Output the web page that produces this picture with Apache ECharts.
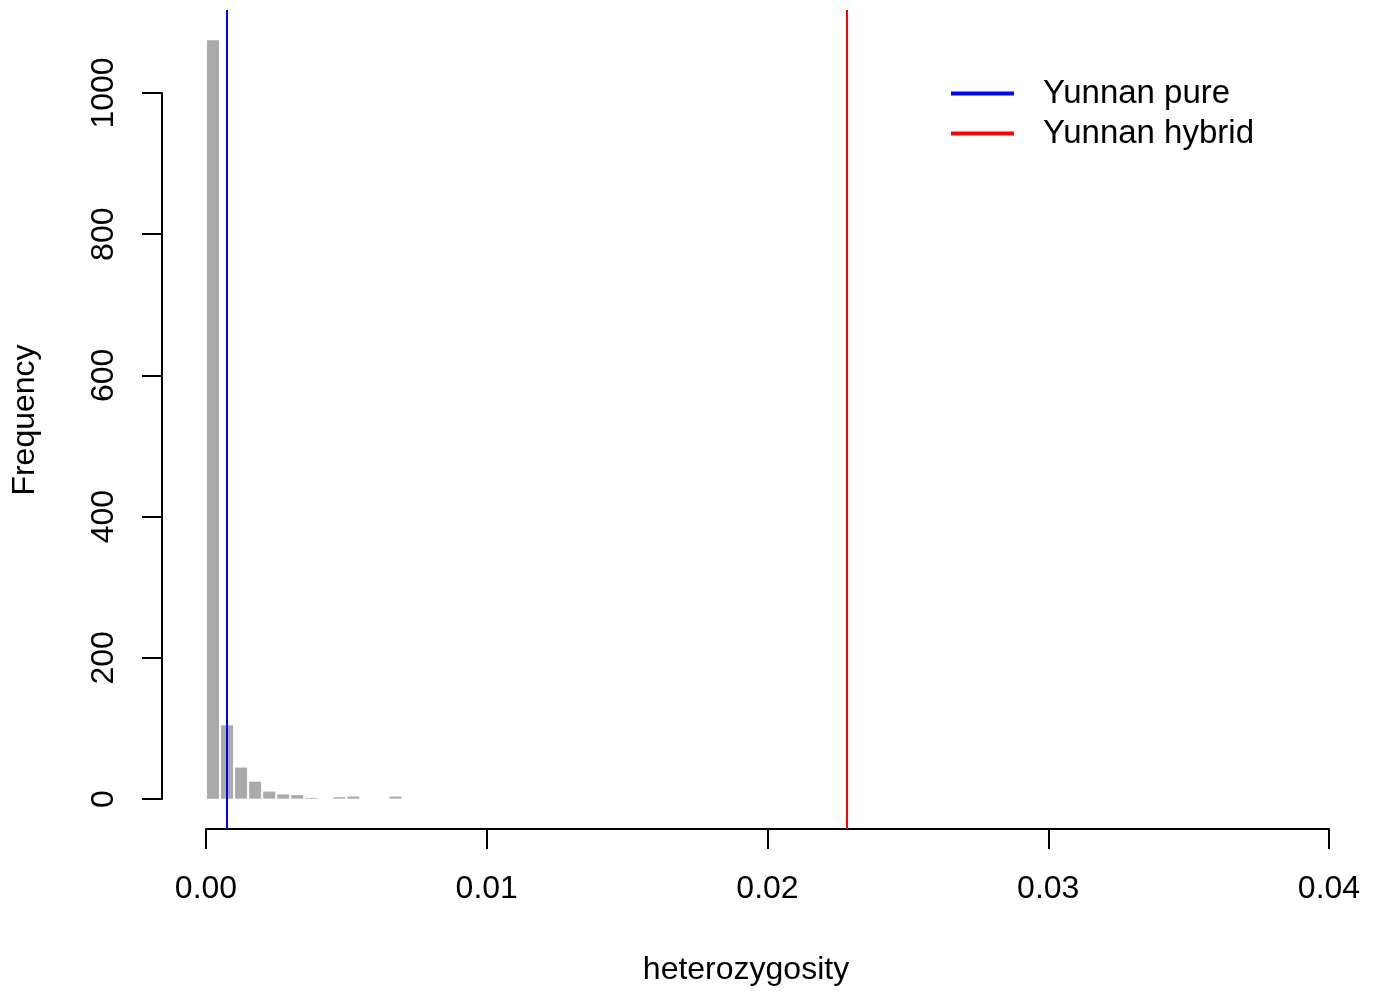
<!DOCTYPE html>
<html>
<head>
<meta charset="utf-8">
<script src="https://cdn.jsdelivr.net/npm/echarts@6/dist/echarts.min.js"></script>
<style>
  html, body { margin: 0; padding: 0; background: #fff; }
  #chart { width: 1380px; height: 994px; }
</style>
</head>
<body>
<div id="chart"></div>
<script>
// histogram bins (left edges) and counts
const binWidth = 0.0005;
const binStarts = [0.0000, 0.0005, 0.0010, 0.0015, 0.0020, 0.0025, 0.0030,
                   0.0035, 0.0040, 0.0045, 0.0050, 0.0055, 0.0060, 0.0065];
const counts = [1074, 104, 44, 24, 10, 6, 5, 1, 0, 2, 3, 0, 0, 3];

// reference lines
const pureValue = 0.00075;
const hybridValue = 0.02283;

const xTicks = [0, 0.01, 0.02, 0.03, 0.04];
const yTicks = [0, 200, 400, 600, 800, 1000];

// plot region limits (R adds 4% on each side)
const xLim = [-0.001567, 0.041603];
const yLim = [-43, 1117];

const font = '"Liberation Sans", Arial, Helvetica, sans-serif';

const chart = echarts.init(document.getElementById('chart'));

const barData = binStarts.map((s, i) => [s + binWidth / 2, counts[i]]);

const vLine = (v) => [[{ coord: [v, yLim[0]] }, { coord: [v, yLim[1]] }]];

chart.setOption({
    animation: false,
    backgroundColor: '#ffffff',
    textStyle: { fontFamily: font },
    grid: [
        // plot region
        { left: 162, right: 6, top: 10, bottom: 165 },
        // x axis holder
        { left: 206, right: 51, top: 10, bottom: 165 },
        // y axis holder
        { left: 162, top: 93, bottom: 195, width: 10 }
    ],
    xAxis: [
        { gridIndex: 0, type: 'value', min: xLim[0], max: xLim[1], show: false },
        {
            gridIndex: 1, type: 'value', min: xTicks[0], max: xTicks[xTicks.length - 1], interval: 0.01,
            axisLine: { onZero: false, lineStyle: { color: '#000', width: 2 } },
            axisTick: { length: 20, lineStyle: { color: '#000', width: 2 } },
            axisLabel: { fontSize: 32, color: '#000', margin: 44, fontFamily: font,
                formatter: v => v.toFixed(2) },
            splitLine: { show: false }
        },
        { gridIndex: 2, type: 'value', show: false }
    ],
    yAxis: [
        { gridIndex: 0, type: 'value', min: yLim[0], max: yLim[1], show: false },
        { gridIndex: 1, type: 'value', show: false },
        {
            gridIndex: 2, type: 'value', min: yTicks[0], max: yTicks[yTicks.length - 1], interval: 200,
            axisLine: { show: true, onZero: false, lineStyle: { color: '#000', width: 2 } },
            axisTick: { show: true, length: 20, lineStyle: { color: '#000', width: 2 } },
            axisLabel: { fontSize: 32, color: '#000', margin: 42, rotate: 90, fontFamily: font,
                formatter: v => String(v) },
            splitLine: { show: false }
        }
    ],
    legend: {
        orient: 'vertical',
        left: 946,
        top: 72,
        icon: 'rect',
        itemWidth: 63,
        itemHeight: 4,
        itemGap: 7,
        data: ['Yunnan pure', 'Yunnan hybrid'],
        textStyle: { fontSize: 33, color: '#000', fontFamily: font, lineHeight: 32, padding: [0, 0, 0, 24] }
    },
    graphic: [
        { type: 'text', x: 746, y: 970, style: { text: 'heterozygosity', font: '32px ' + font,
            fill: '#000', align: 'center', verticalAlign: 'middle' } },
        { type: 'text', x: 25, y: 420, rotation: Math.PI / 2, style: { text: 'Frequency', font: '32px ' + font,
            fill: '#000', align: 'center', verticalAlign: 'middle' } }
    ],
    series: [
        {
            type: 'bar',
            xAxisIndex: 0, yAxisIndex: 0,
            data: barData,
            barWidth: 12,
            itemStyle: { color: '#aaaaaa' },
            silent: true
        },
        {
            name: 'Yunnan pure',
            type: 'line',
            xAxisIndex: 0, yAxisIndex: 0,
            data: [],
            color: '#0000ff',
            markLine: {
                silent: true, symbol: 'none', label: { show: false },
                lineStyle: { color: '#0000ff', width: 2, type: 'solid' },
                data: vLine(pureValue)
            }
        },
        {
            name: 'Yunnan hybrid',
            type: 'line',
            xAxisIndex: 0, yAxisIndex: 0,
            data: [],
            color: '#ff0000',
            markLine: {
                silent: true, symbol: 'none', label: { show: false },
                lineStyle: { color: '#ff0000', width: 2, type: 'solid' },
                data: vLine(hybridValue)
            }
        }
    ]
});
</script>
</body>
</html>
